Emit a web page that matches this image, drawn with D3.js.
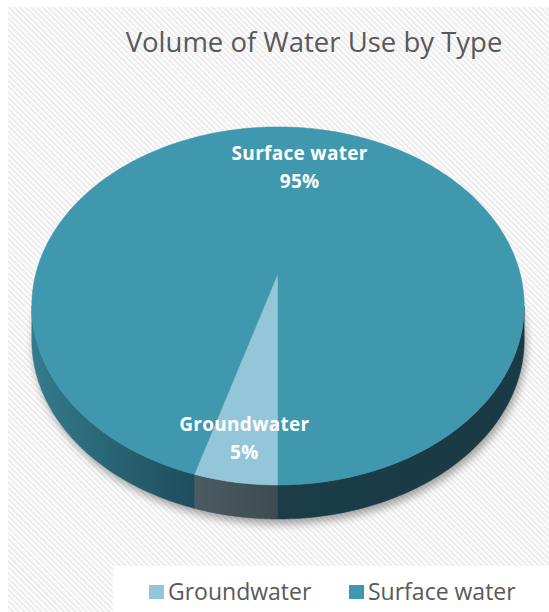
<!DOCTYPE html>
<html lang="en">
<head>
<meta charset="UTF-8">
<title>Volume of Water Use by Type</title>
<script src="https://d3js.org/d3.v7.min.js"></script>
<style>
  body { margin: 0; background: #fff; }
  svg { display: block; font-family: "Open Sans", "Noto Sans", sans-serif; }
</style>
</head>
<body>
<div id="chart"></div>
<script>
// data
var categories = ["Groundwater", "Surface water"];
var values = [4.6, 95.4];
var colors = ["#93c6d8", "#4098ae"];
var title = "Volume of Water Use by Type";

var width = 549, height = 612;

var svg = d3.select("#chart").append("svg")
    .attr("width", width)
    .attr("height", height);

var defs = svg.append("defs");

// striped background
var pat = defs.append("pattern")
    .attr("id", "stripes")
    .attr("patternUnits", "userSpaceOnUse")
    .attr("width", 4).attr("height", 4)
    .attr("patternTransform", "rotate(-45)");
pat.append("rect").attr("width", 4).attr("height", 4).attr("fill", "#fdfdfd");
pat.append("rect").attr("width", 1.6).attr("height", 4).attr("fill", "#e9e9e9");

svg.append("rect")
    .attr("x", 8).attr("y", 7)
    .attr("width", width - 8).attr("height", height - 7)
    .attr("fill", "url(#stripes)");

// white box behind legend
svg.append("rect")
    .attr("x", 113).attr("y", 566)
    .attr("width", width - 113).attr("height", height - 566)
    .attr("fill", "#fff");

// side shading gradients
var gSide = defs.append("linearGradient")
    .attr("id", "sideSurface")
    .attr("gradientUnits", "userSpaceOnUse")
    .attr("x1", 30).attr("x2", 525).attr("y1", 0).attr("y2", 0);
gSide.append("stop").attr("offset", "0%").attr("stop-color", "#347c8d");
gSide.append("stop").attr("offset", "30%").attr("stop-color", "#1f5160");
gSide.append("stop").attr("offset", "50%").attr("stop-color", "#1b3d48");
gSide.append("stop").attr("offset", "100%").attr("stop-color", "#1a3a45");

var gSide2 = defs.append("linearGradient")
    .attr("id", "sideGround")
    .attr("gradientUnits", "userSpaceOnUse")
    .attr("x1", 190).attr("x2", 280).attr("y1", 0).attr("y2", 0);
gSide2.append("stop").attr("offset", "0%").attr("stop-color", "#4b5c62");
gSide2.append("stop").attr("offset", "100%").attr("stop-color", "#3d4b51");

var blur = defs.append("filter").attr("id", "shadow")
    .attr("x", "-20%").attr("y", "-20%").attr("width", "140%").attr("height", "140%");
blur.append("feGaussianBlur").attr("stdDeviation", 4);

// pie geometry (perspective ellipse)
var cx = 278, cy = 273;   // projected centre
var A = 242, B = 173, k = 0.184, depth = 34;

function proj(a, r) {
    // a: angle clockwise from 12 o'clock, r: fraction of radius
    var u = Math.sin(a) * r, v = -Math.cos(a) * r;
    var w = 1 - k * v;
    return [cx + A * u / w, cy + B * v / w];
}

function arcPoints(a0, a1, r, dy) {
    var n = Math.max(2, Math.ceil(Math.abs(a1 - a0) / 0.02));
    var pts = [];
    for (var i = 0; i <= n; i++) {
        var p = proj(a0 + (a1 - a0) * i / n, r);
        pts.push([p[0], p[1] + (dy || 0)]);
    }
    return pts;
}

var pie = d3.pie().sort(null).startAngle(Math.PI).endAngle(3 * Math.PI);
var arcs = pie(values);

var line = d3.line();

// visible front rim range
var frontA0 = Math.acos(-k), frontA1 = 2 * Math.PI - Math.acos(-k);

// shadow
var outlineB = arcPoints(0, 2 * Math.PI, 1, depth);
svg.append("path")
    .attr("d", line(outlineB.map(function (p) { return [p[0] + 2, p[1] + 5]; })) + "Z")
    .attr("fill", "#000").attr("opacity", 0.35)
    .attr("filter", "url(#shadow)");

var pieG = svg.append("g");

// side walls
arcs.forEach(function (d, i) {
    var s = d.startAngle, e = d.endAngle;
    [0, 2 * Math.PI, 4 * Math.PI].forEach(function (off) {
        var a0 = Math.max(s, frontA0 + off), a1 = Math.min(e, frontA1 + off);
        if (a1 <= a0) return;
        var top = arcPoints(a0, a1, 1, 0);
        var bot = arcPoints(a1, a0, 1, depth);
        pieG.append("path")
            .attr("d", line(top.concat(bot)) + "Z")
            .attr("fill", i === 0 ? "url(#sideGround)" : "url(#sideSurface)")
            .attr("stroke", i === 0 ? "url(#sideGround)" : "url(#sideSurface)")
            .attr("stroke-width", 0.5);
    });
});

// top faces
arcs.forEach(function (d, i) {
    var pts = [proj(0, 0)].concat(arcPoints(d.startAngle, d.endAngle, 1, 0));
    pieG.append("path")
        .attr("d", line(pts) + "Z")
        .attr("fill", colors[i])
        .attr("stroke", colors[i])
        .attr("stroke-width", 0.5);
});

// data labels
var labelR = [0.82, 0.7];
var total = d3.sum(values);
arcs.forEach(function (d, i) {
    var p = proj((d.startAngle + d.endAngle) / 2, labelR[i]);
    var g = svg.append("g")
        .attr("text-anchor", "middle")
        .attr("fill", "#fff")
        .attr("font-weight", "bold")
        .attr("font-size", 19)
        .attr("letter-spacing", 0.3);
    g.append("text").attr("x", p[0]).attr("y", p[1] - 7).text(categories[i]);
    g.append("text").attr("x", p[0]).attr("y", p[1] + 21)
        .text(Math.round(values[i] / total * 100) + "%");
});

// title
svg.append("text")
    .attr("x", 314).attr("y", 52)
    .attr("text-anchor", "middle")
    .attr("fill", "#595959")
    .attr("font-size", 27.5)
    .text(title);

// legend
var legX = d3.scaleOrdinal().domain(categories).range([149, 349]);
var leg = svg.selectAll(".leg").data(categories).enter().append("g")
    .attr("class", "leg")
    .attr("transform", function (d) { return "translate(" + legX(d) + ",585)"; });
leg.append("rect")
    .attr("width", 15).attr("height", 14)
    .attr("fill", function (d, i) { return colors[i]; });
leg.append("text")
    .attr("x", 19).attr("y", 15)
    .attr("fill", "#595959")
    .attr("font-size", 23)
    .text(function (d) { return d; });
</script>
</body>
</html>
